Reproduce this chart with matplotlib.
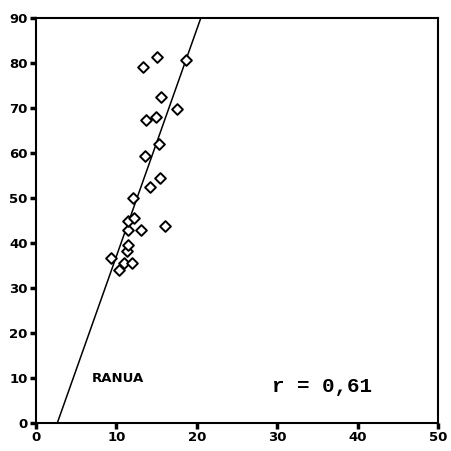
import matplotlib.pyplot as plt
import numpy as np

# points
x_vals = [9.3, 10.3, 10.9, 11.9, 11.3, 11.5, 11.5, 11.5, 12.2, 13.0, 12.1, 16.0,
          14.2, 15.4, 13.5, 15.3, 13.7, 14.9, 15.6, 17.5, 13.3, 15.0, 18.7]
y_vals = [36.7, 33.9, 35.5, 35.5, 38.2, 39.6, 42.9, 44.8, 45.5, 42.9, 50.0, 43.7,
          52.5, 54.4, 59.4, 62.1, 67.4, 68.1, 72.4, 69.8, 79.2, 81.4, 80.7]

# regression line end points (x at y=0 and y=90)
line_x = [2.65, 20.5]
line_y = [0, 90]

x_ticks = [0, 10, 20, 30, 40, 50]
y_ticks = [0, 10, 20, 30, 40, 50, 60, 70, 80, 90]

fig = plt.figure(figsize=(4.51, 4.51), dpi=100)
ax = fig.add_axes([36/451, 28/451, 402/451, 405/451])

ax.plot(line_x, line_y, color='black', lw=1.1)
ax.scatter(x_vals, y_vals, marker='D', s=30, facecolor='white',
           edgecolor='black', linewidths=1.4, zorder=3)

ax.set_xlim(0, 50)
ax.set_ylim(0, 90)
ax.set_xticks(x_ticks)
ax.set_yticks(y_ticks)
ax.tick_params(direction='out', length=4, width=2.5, labelsize=9.5, pad=2)
for lab in ax.get_xticklabels() + ax.get_yticklabels():
    lab.set_fontweight('bold')
for s in ax.spines.values():
    s.set_linewidth(1.5)

ax.text(6.9, 9.8, 'RANUA', fontsize=9.5, fontweight='bold', va='center',
        family='Liberation Sans Narrow')
ax.text(29.3, 8.2, 'r = 0,61', fontsize=15, fontweight='bold', va='center',
        family='Liberation Mono')

fig.savefig('out.png', dpi=100)
